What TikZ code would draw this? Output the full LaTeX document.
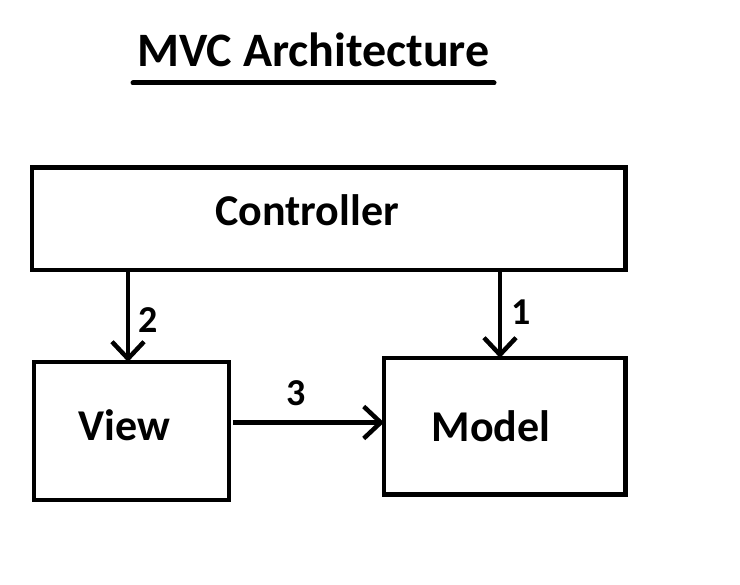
\documentclass[tikz,border=0pt]{standalone}
\usepackage{fontspec}
\setmainfont{Carlito}
\usetikzlibrary{arrows.meta}
\tikzset{
  box/.style={draw,line width=4.5pt,rectangle,inner sep=0pt,outer sep=0pt},
  boxtext/.style={font=\bfseries\fontsize{44}{46}\selectfont,inner sep=0pt},
  numtext/.style={font=\bfseries\fontsize{38}{40}\selectfont,inner sep=0pt},
  flow/.style={line width=4.5pt,-{Straight Barb[length=17pt,width=32pt,line width=4.5pt]}}
}
\begin{document}
\begin{tikzpicture}[x=1pt,y=-1pt]
            \useasboundingbox (0,0) rectangle (740,585);
            \node[boxtext,font=\bfseries\fontsize{48}{50}\selectfont] (title) at (313.5,50) {MVC Architecture};
            \draw[line width=5pt,line cap=round] (133,83) coordinate (ul1) -- (494,83) coordinate (ul2);
            \node at (328.75,218.75)[box,minimum width=593.5pt,minimum height=102.5pt] (controller) {};
            \node at (131.5,431)[box,minimum width=195pt,minimum height=138pt] (view) {};
            \node at (504.75,426.25)[box,minimum width=241.5pt,minimum height=136.5pt] (model) {};
            \node[boxtext] at (307,210) {Controller};
            \node[boxtext] at (124,425) {View};
            \node[boxtext] at (491,426) {Model};
            \coordinate (v2) at (128,270);
            \coordinate (m1) at (500,270);
            \coordinate (v3) at (233,422.5);
            \draw[flow] (v2) -- (v2 |- view.north);
            \draw[flow] (m1) -- (m1 |- model.north);
            \draw[flow] (v3) -- (v3 -| model.west);
            \node[numtext] at (148,320) {2};
            \node[numtext] at (521,312) {1};
            \node[numtext] at (296,393) {3};
        \end{tikzpicture}
\end{document}
